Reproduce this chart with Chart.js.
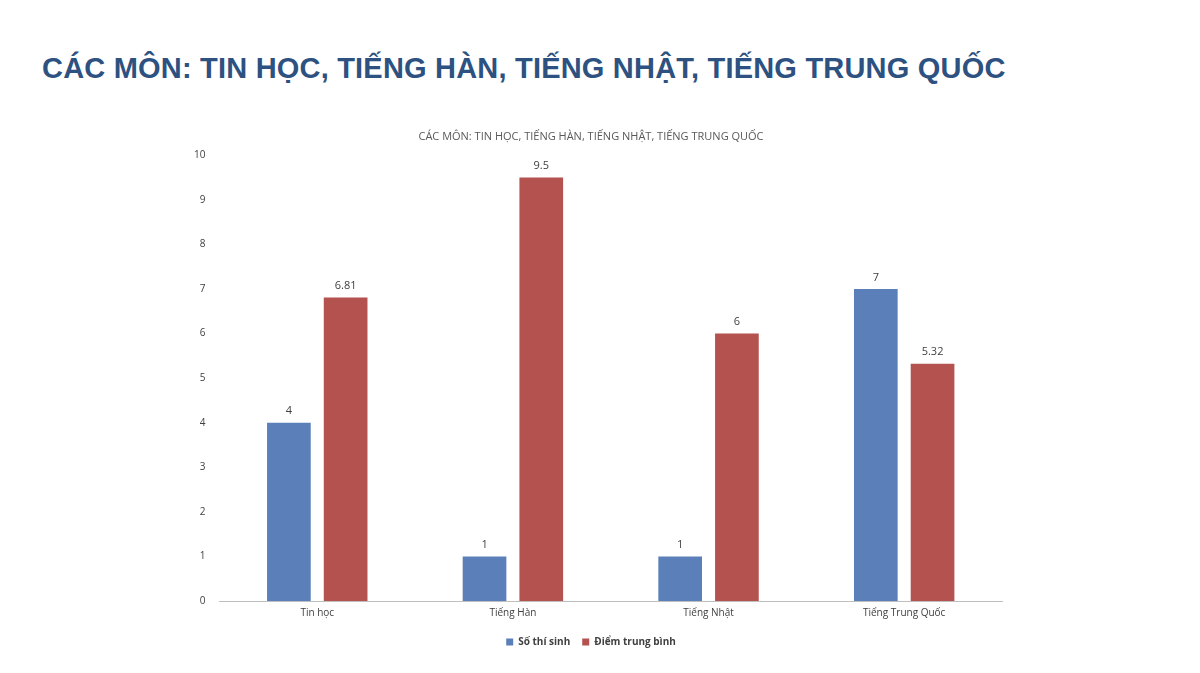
<!DOCTYPE html>
<html><head><meta charset="utf-8">
<script src="https://cdn.jsdelivr.net/npm/chart.js@4"></script>
<style>
body{margin:0;width:1200px;height:673px;background:#fff;position:relative;overflow:hidden;font-family:"Open Sans",sans-serif}
h1{position:absolute;left:42px;top:52px;margin:0;font-family:"Liberation Sans",Arial,sans-serif;font-weight:bold;font-size:29px;color:#2d5180;letter-spacing:0.2px}
#wrap{position:absolute;left:160px;top:122px;width:880px;height:540px}
</style></head><body>
<h1>CÁC MÔN: TIN HỌC, TIẾNG HÀN, TIẾNG NHẬT, TIẾNG TRUNG QUỐC</h1>
<div id="wrap"><canvas id="c"></canvas></div>
<script>
const categories=["Tin học","Tiếng Hàn","Tiếng Nhật","Tiếng Trung Quốc"];
const soThiSinh=[4,1,1,7];
const diemTB=[6.81,9.5,6,5.32];
const yTicks=[0,1,2,3,4,5,6,7,8,9,10];
const labelPlugin={id:'lbl',afterDatasetsDraw(ch){const c=ch.ctx;c.save();c.font='11px "Open Sans"';c.fillStyle='#404040';c.textAlign='center';c.textBaseline='bottom';
ch.data.datasets.forEach((d,i)=>{ch.getDatasetMeta(i).data.forEach((b,j)=>{c.fillText(String(d.data[j]),b.x,b.y-6);});});c.restore();}};
new Chart(document.getElementById('c'),{type:'bar',
data:{labels:categories,datasets:[
{label:'Số thí sinh',data:soThiSinh,backgroundColor:'#5b80b9'},
{label:'Điểm trung bình',data:diemTB,backgroundColor:'#b3524e'}]},
options:{responsive:true,maintainAspectRatio:false,animation:false,
categoryPercentage:0.58,barPercentage:0.77,
layout:{padding:{left:20,right:38,top:0,bottom:5}},
plugins:{title:{display:true,text:'CÁC MÔN: TIN HỌC, TIẾNG HÀN, TIẾNG NHẬT, TIẾNG TRUNG QUỐC',color:'#595959',font:{family:'Open Sans',size:11,weight:'normal'},padding:{top:8,bottom:12}},
legend:{position:'bottom',labels:{boxWidth:7,boxHeight:7,color:'#404040',font:{family:'Open Sans',size:10,weight:'bold'},padding:12}},tooltip:{enabled:false}},
scales:{x:{grid:{display:false,drawTicks:false},border:{color:'#bfbfbf'},ticks:{color:'#404040',font:{family:'Open Sans',size:10},padding:6}},
y:{min:0,max:10,afterBuildTicks(a){a.ticks=yTicks.map(v=>({value:v}));},grid:{display:false,drawTicks:false},border:{display:false},ticks:{color:'#404040',font:{family:'Open Sans',size:10},padding:14}}}}
,plugins:[labelPlugin]});
</script></body></html>
